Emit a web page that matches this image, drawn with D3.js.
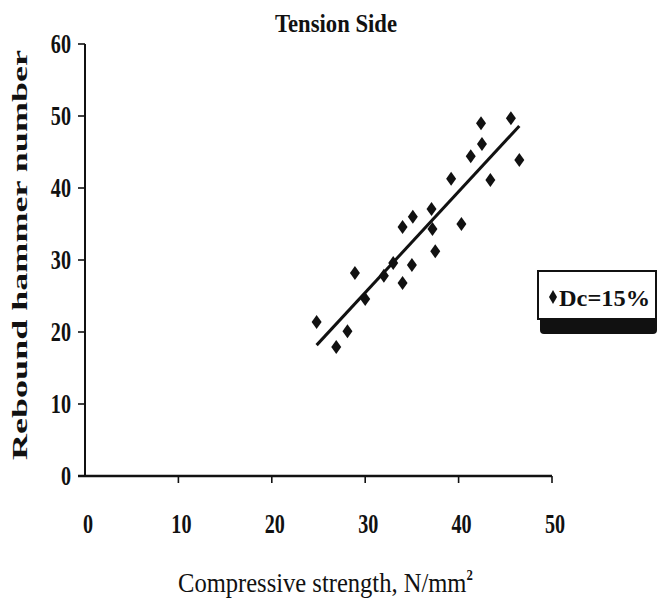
<!DOCTYPE html>
<html>
<head>
<meta charset="utf-8">
<script src="https://cdn.jsdelivr.net/npm/d3@7"></script>
<style>
  html, body { margin: 0; padding: 0; background: #fff; }
  svg { display: block; }
  text { font-family: "Liberation Serif", "Times New Roman", serif; fill: #111; }
</style>
</head>
<body>
<svg id="chart" width="659" height="604"></svg>
<script>
// Compressive strength (N/mm²) and rebound hammer number, tension side, Dc = 15%
const strength = [24.8, 26.9, 28.1, 28.9, 30.0, 32.0, 33.0, 34.0, 35.0, 34.0, 35.1,
                  37.1, 37.2, 37.5, 40.3, 39.2, 41.3, 42.5, 42.4, 43.4, 45.6, 46.5];
const rebound  = [21.4, 17.9, 20.1, 28.2, 24.6, 27.8, 29.6, 26.8, 29.3, 34.6, 36.0,
                  37.1, 34.3, 31.2, 35.0, 41.3, 44.4, 46.1, 49.0, 41.1, 49.7, 43.9];
const xTicks = [0, 10, 20, 30, 40, 50];
const yTicks = [0, 10, 20, 30, 40, 50, 60];
const titleText = "Tension Side";
const xLabel = "Compressive strength, N/mm";
const xLabelSup = "2";
const yLabel = "Rebound hammer number";
const seriesName = "Dc=15%";

const svg = d3.select("#chart");
const x = d3.scaleLinear().domain([0, 50]).range([85, 552]);
const y = d3.scaleLinear().domain([0, 60]).range([476, 44]);

// Axis lines
svg.append("line").attr("x1", x(0)).attr("x2", x(0)).attr("y1", y(60)).attr("y2", y(0))
  .attr("stroke", "#111").attr("stroke-width", 2);
svg.append("line").attr("x1", x(0) - 7).attr("x2", x(50)).attr("y1", y(0)).attr("y2", y(0))
  .attr("stroke", "#111").attr("stroke-width", 2.4);

// Y ticks and labels (condensed bold serif)
const yt = svg.append("g");
yt.selectAll("line").data(yTicks).join("line")
  .attr("x1", x(0) - 7).attr("x2", x(0)).attr("y1", d => y(d)).attr("y2", d => y(d))
  .attr("stroke", "#111").attr("stroke-width", 1.6);
yt.selectAll("text").data(yTicks).join("text")
  .attr("transform", d => `translate(71,${y(d) + 9}) scale(0.72,1)`)
  .attr("text-anchor", "end").attr("font-weight", "bold").attr("font-size", 28)
  .text(d => d);

// X ticks and labels
const xt = svg.append("g");
xt.selectAll("line").data(xTicks.slice(1)).join("line")
  .attr("x1", d => x(d)).attr("x2", d => x(d)).attr("y1", y(0)).attr("y2", y(0) + 7)
  .attr("stroke", "#111").attr("stroke-width", 1.6);
xt.selectAll("text").data(xTicks).join("text")
  .attr("transform", d => `translate(${x(d) + 3},533) scale(0.72,1)`)
  .attr("text-anchor", "middle").attr("font-weight", "bold").attr("font-size", 28)
  .text(d => d);

// Least-squares trend line across the data range
const mx = d3.mean(strength), my = d3.mean(rebound);
const sxy = d3.sum(strength, (v, i) => (v - mx) * (rebound[i] - my));
const sxx = d3.sum(strength, v => (v - mx) * (v - mx));
const slope = sxy / sxx, intercept = my - slope * mx;
const [x0, x1] = d3.extent(strength);
svg.append("line")
  .attr("x1", x(x0)).attr("y1", y(intercept + slope * x0))
  .attr("x2", x(x1)).attr("y2", y(intercept + slope * x1))
  .attr("stroke", "#111").attr("stroke-width", 3);

// Diamond markers
const diamond = (w, h) => `M0,${-h}L${w},0L0,${h}L${-w},0Z`;
svg.append("g").selectAll("path").data(strength).join("path")
  .attr("transform", (d, i) => `translate(${x(d)},${y(rebound[i])})`)
  .attr("d", diamond(5, 7))
  .attr("fill", "#111");

// Title
svg.append("text").attr("x", 336).attr("y", 32).attr("text-anchor", "middle")
  .attr("font-weight", "bold").attr("font-size", 26)
  .attr("textLength", 122).attr("lengthAdjust", "spacingAndGlyphs")
  .text(titleText);

// X axis title with superscript, condensed horizontally to its target width
const xl = svg.append("text").attr("font-size", 27);
xl.append("tspan").text(xLabel);
xl.append("tspan").attr("font-size", 14).attr("font-weight", "bold").attr("dy", -12).text(xLabelSup);
const natural = xl.node().getComputedTextLength();
xl.attr("transform", `translate(178,592) scale(${295 / natural},1)`);

// Y axis title
svg.append("text").attr("transform", "translate(27,255) rotate(-90)")
  .attr("text-anchor", "middle").attr("font-weight", "bold").attr("font-size", 21)
  .attr("textLength", 410).attr("lengthAdjust", "spacingAndGlyphs")
  .text(yLabel);

// Legend box with dark shadow band underneath
const lg = svg.append("g");
lg.append("rect").attr("x", 540).attr("y", 312).attr("width", 117).attr("height", 22)
  .attr("rx", 4).attr("fill", "#111");
lg.append("rect").attr("x", 538).attr("y", 271).attr("width", 118).attr("height", 48)
  .attr("fill", "#fff").attr("stroke", "#111").attr("stroke-width", 2);
lg.append("path").attr("transform", "translate(553,297)").attr("d", diamond(4, 7)).attr("fill", "#111");
lg.append("text").attr("x", 559).attr("y", 306).attr("font-size", 24).attr("font-weight", "bold")
  .attr("textLength", 91).attr("lengthAdjust", "spacingAndGlyphs")
  .text(seriesName);
</script>
</body>
</html>
